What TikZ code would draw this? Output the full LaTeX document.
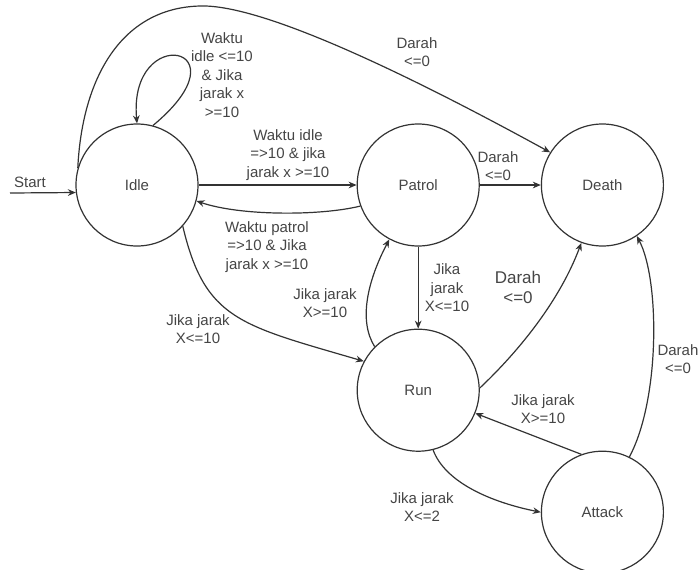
\documentclass[tikz,border=0pt]{standalone}
\usepackage{fontspec}
\setmainfont{Liberation Sans}
\usepackage{xcolor}
\usetikzlibrary{positioning, arrows.meta}
\definecolor{linegrey}{HTML}{333333}
\definecolor{textgrey}{HTML}{454545}

\begin{document}
\begin{tikzpicture}[x=0.75pt, y=-0.75pt, node distance=45.75pt,
    every node/.style={font=\fontsize{11.25}{13.9}\selectfont, text=textgrey},
    stnode/.style={circle, draw=linegrey, line width=0.9pt, minimum size=91.5pt, inner sep=0pt},
    lbl/.style={align=center, inner sep=1pt},
    trans/.style={-{Stealth[length=6pt, width=5pt]}, draw=linegrey, line width=0.9pt}]
        \useasboundingbox (0,0) rectangle (700,569);
        \node[stnode] (idle) at (137,185) {Idle};
        \node[stnode, right=118.5pt of idle] (patrol) {Patrol};
        \node[stnode, right=of patrol] (death) {Death};
        \node[stnode, below=61.5pt of patrol] (run) {Run};
        \node[stnode, below=153pt of death] (attack) {Attack};
        \node (start) at (30,182) {Start};
        \coordinate (startin) at (10,193);
        % Arrows between states
        \draw[trans] (startin) -- (idle.187.5);
        \draw[trans] (idle.75) .. controls (250,45) and (128,22) .. (idle.90);
        \draw[trans] (idle.164.7) .. controls (82,80) and (120,8) .. (200,6) .. controls (260,4) and (400,70) .. (death.148);
        \draw[trans] (idle) -- (patrol);
        \draw[trans] (patrol.200) .. controls (320,216) and (240,216) .. (idle.-15);
        \draw[trans] (patrol) -- (death);
        \draw[trans] (patrol) -- (run);
        \draw[trans] (run.135) .. controls (358,320) and (368,280) .. (patrol.242);
        \draw[trans] (idle.-42.8) .. controls (205,320) and (240,325) .. (run.152);
        \draw[trans] (run.2) .. controls (520,350) and (560,300) .. (death.250);
        \draw[trans] (attack.110.8) -- (run.-22.5);
        \draw[trans] (run.-76) .. controls (445,482) and (490,502) .. (attack.west);
        \draw[trans] (attack.64.2) .. controls (660,400) and (660,280) .. (death.-56.6);
        % Labels of the transitions
        \node[lbl] (lblloop) at (222,75) {Waktu\\idle <=10\\\& Jika\\jarak x\\>=10};
        \node[lbl] (lblarc) at (417,52) {Darah\\<=0};
        \node[lbl] (lblidlepat) at (288,155) {Waktu idle\\=>10 \& jika\\jarak x >=10};
        \node[lbl] (lblpatidle) at (267,247) {Waktu patrol\\=>10 \& Jika\\jarak x >=10};
        \node[lbl] (lblpatdeath) at (498,166) {Darah\\<=0};
        \node[lbl] (lblpatrun) at (447,288) {Jika\\jarak\\X<=10};
        \node[lbl] (lblrunpat) at (325,303) {Jika jarak\\X>=10};
        \node[lbl] (lblidlerun) at (198,329) {Jika jarak\\X<=10};
        \node[lbl, font=\fontsize{12.75}{15}\selectfont] (lblrundeath) at (518,287) {Darah\\<=0};
        \node[lbl] (lblattrun) at (543,409) {Jika jarak\\X>=10};
        \node[lbl] (lblrunatt) at (422,507) {Jika jarak\\X<=2};
        \node[lbl] (lblattdeath) at (678,359) {Darah\\<=0};
    \end{tikzpicture}
\end{document}
